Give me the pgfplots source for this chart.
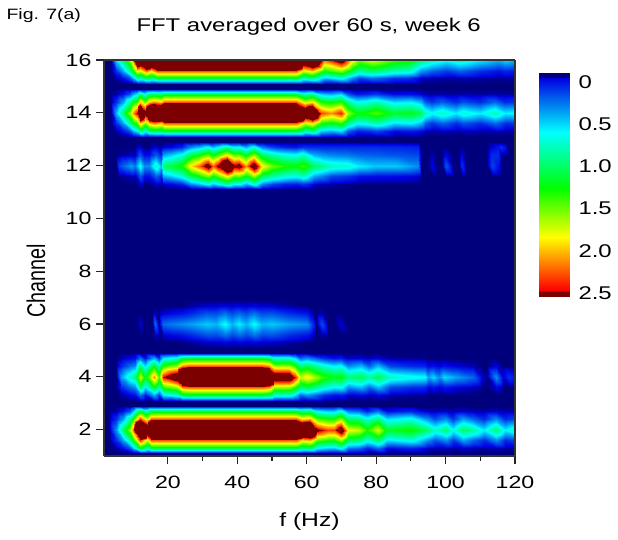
\documentclass[border=0pt]{standalone}
\usepackage{fontspec}
\setmainfont[FakeStretch=1.3]{Liberation Sans}
\newfontfamily\ylab{Liberation Sans}
\usepackage{graphicx}
\usepackage{pgfplots}
\pgfplotsset{compat=1.18}
\definecolor{navy}{RGB}{0,0,125}
\pgfplotsset{colormap={fftmap}{
  rgb255(0)=(0,0,125) rgb255(9)=(0,0,125) rgb255(15)=(0,0,225)
  rgb255(79)=(0,255,255) rgb255(146)=(0,255,0) rgb255(204)=(255,255,0)
  rgb255(266)=(255,0,0) rgb255(268)=(125,0,0) rgb255(621)=(125,0,0)}}
\begin{document}
\begin{tikzpicture}
\path[use as bounding box] (0,0) rectangle (618pt,539pt);
\node[anchor=base west,font=\fontsize{15}{18}\selectfont] at (3pt,519pt) {Fig. 7(a)};
\begin{axis}[
  at={(104pt,83pt)}, anchor=south west,
  scale only axis, width=411pt, height=396pt,
  xmin=1.6, xmax=120, ymin=1, ymax=16,
  view={0}{90},
  axis background/.style={fill=navy},
  xtick={20,40,...,120}, minor x tick num=1,
  ytick={2,4,...,16},
  xtick pos=left, ytick pos=left,
  tick align=outside,
  major tick length=8pt, minor tick length=5pt,
  tick style={color=black!85, line width=1.2pt},
  axis line style={color=black!80, line width=1.1pt},
  point meta min=-0.21, point meta max=6,
  colormap name=fftmap,
  /pgf/number format/assume math mode=true,
  tick label style={font=\fontsize{17.8}{20}\selectfont},
  xticklabel style={yshift=-9pt},
  yticklabel style={xshift=-1pt},
  title={FFT averaged over 60 s, week 6},
  title style={at={(axis description cs:0.498,1.0556)},anchor=base,font=\fontsize{18.4}{21}\selectfont},
  xlabel={f (Hz)},
  xlabel style={at={(axis description cs:0.5,-0.179)},anchor=base,font=\fontsize{19}{22}\selectfont},
  ylabel={\scalebox{1}[1.3]{\ylab\fontsize{19.7}{22}\selectfont Channel}},
  ylabel style={at={(axis description cs:-0.1435,0.442)},anchor=base},
  axis on top,
]
% channel 2
\addplot3[surf,shader=interp,mesh/cols=7] table[row sep=\\,header=false,x index=0,y index=1,z index=2]{
3 1.1 -.12\\ 3 1.3 -.12\\ 3 1.6 -.12\\ 3 2 -.12\\ 3 2.4 -.12\\ 3 2.7 -.12\\ 3 2.9 -.12\\
5 1.1 -.12\\ 5 1.3 -.1\\ 5 1.6 .05\\ 5 2 .3\\ 5 2.4 .05\\ 5 2.7 -.1\\ 5 2.9 -.12\\
7 1.1 -.12\\ 7 1.3 -.02\\ 7 1.6 .36\\ 7 2 1\\ 7 2.4 .36\\ 7 2.7 -.02\\ 7 2.9 -.12\\
9 1.1 -.12\\ 9 1.3 .15\\ 9 1.6 .9\\ 9 2 1.6\\ 9 2.4 .9\\ 9 2.7 .15\\ 9 2.9 -.12\\
10 1.1 -.12\\ 10 1.3 .42\\ 10 1.6 1.25\\ 10 2 2.2\\ 10 2.4 1.25\\ 10 2.7 .42\\ 10 2.9 -.12\\
12 1.1 -.12\\ 12 1.3 1.15\\ 12 1.6 2.35\\ 12 2 5.4\\ 12 2.4 2.35\\ 12 2.7 1.15\\ 12 2.9 -.12\\
14 1.1 -.12\\ 14 1.3 .75\\ 14 1.6 1.7\\ 14 2 3.2\\ 14 2.4 1.7\\ 14 2.7 .75\\ 14 2.9 -.12\\
15 1.1 -.12\\ 15 1.3 1.1\\ 15 1.6 2.25\\ 15 2 5\\ 15 2.4 2.25\\ 15 2.7 1.1\\ 15 2.9 -.12\\
57 1.1 -.12\\ 57 1.3 1.1\\ 57 1.6 2.25\\ 57 2 5\\ 57 2.4 2.25\\ 57 2.7 1.1\\ 57 2.9 -.12\\
58.5 1.1 -.12\\ 58.5 1.3 .9\\ 58.5 1.6 1.9\\ 58.5 2 3.8\\ 58.5 2.4 1.9\\ 58.5 2.7 .9\\ 58.5 2.9 -.12\\
61 1.1 -.12\\ 61 1.3 .98\\ 61 1.6 2.03\\ 61 2 4.2\\ 61 2.4 2.03\\ 61 2.7 .98\\ 61 2.9 -.12\\
63 1.1 -.12\\ 63 1.3 .58\\ 63 1.6 1.45\\ 63 2 2.6\\ 63 2.4 1.45\\ 63 2.7 .58\\ 63 2.9 -.12\\
66 1.1 -.12\\ 66 1.3 .46\\ 66 1.6 1.3\\ 66 2 2.3\\ 66 2.4 1.3\\ 66 2.7 .46\\ 66 2.9 -.12\\
68 1.1 -.12\\ 68 1.3 .46\\ 68 1.6 1.3\\ 68 2 2.3\\ 68 2.4 1.3\\ 68 2.7 .46\\ 68 2.9 -.12\\
70 1.1 -.12\\ 70 1.3 .68\\ 70 1.6 1.6\\ 70 2 2.9\\ 70 2.4 1.6\\ 70 2.7 .68\\ 70 2.9 -.12\\
72 1.1 -.12\\ 72 1.3 .25\\ 72 1.6 1.01\\ 72 2 1.8\\ 72 2.4 1.01\\ 72 2.7 .25\\ 72 2.9 -.12\\
75 1.1 -.12\\ 75 1.3 .2\\ 75 1.6 .95\\ 75 2 1.7\\ 75 2.4 .95\\ 75 2.7 .2\\ 75 2.9 -.12\\
77.5 1.1 -.12\\ 77.5 1.3 .03\\ 77.5 1.6 .67\\ 77.5 2 1.3\\ 77.5 2.4 .67\\ 77.5 2.7 .03\\ 77.5 2.9 -.12\\
80.5 1.1 -.12\\ 80.5 1.3 .22\\ 80.5 1.6 .98\\ 80.5 2 1.75\\ 80.5 2.4 .98\\ 80.5 2.7 .22\\ 80.5 2.9 -.12\\
83 1.1 -.12\\ 83 1.3 -.04\\ 83 1.6 .52\\ 83 2 1.15\\ 83 2.4 .52\\ 83 2.7 -.04\\ 83 2.9 -.12\\
90 1.1 -.12\\ 90 1.3 .03\\ 90 1.6 .67\\ 90 2 1.3\\ 90 2.4 .67\\ 90 2.7 .03\\ 90 2.9 -.12\\
95 1.1 -.12\\ 95 1.3 -.08\\ 95 1.6 .3\\ 95 2 .95\\ 95 2.4 .3\\ 95 2.7 -.08\\ 95 2.9 -.12\\
97 1.1 -.12\\ 97 1.3 -.09\\ 97 1.6 .15\\ 97 2 .7\\ 97 2.4 .15\\ 97 2.7 -.09\\ 97 2.9 -.12\\
100 1.1 -.12\\ 100 1.3 -.08\\ 100 1.6 .3\\ 100 2 .95\\ 100 2.4 .3\\ 100 2.7 -.08\\ 100 2.9 -.12\\
102 1.1 -.12\\ 102 1.3 -.1\\ 102 1.6 .08\\ 102 2 .6\\ 102 2.4 .08\\ 102 2.7 -.1\\ 102 2.9 -.12\\
105 1.1 -.12\\ 105 1.3 -.07\\ 105 1.6 .36\\ 105 2 1\\ 105 2.4 .36\\ 105 2.7 -.07\\ 105 2.9 -.12\\
108 1.1 -.12\\ 108 1.3 -.09\\ 108 1.6 .2\\ 108 2 .85\\ 108 2.4 .2\\ 108 2.7 -.09\\ 108 2.9 -.12\\
111 1.1 -.12\\ 111 1.3 -.1\\ 111 1.6 .05\\ 111 2 .55\\ 111 2.4 .05\\ 111 2.7 -.1\\ 111 2.9 -.12\\
114.5 1.1 -.12\\ 114.5 1.3 -.08\\ 114.5 1.6 .3\\ 114.5 2 .95\\ 114.5 2.4 .3\\ 114.5 2.7 -.08\\ 114.5 2.9 -.12\\
117 1.1 -.12\\ 117 1.3 -.1\\ 117 1.6 .05\\ 117 2 .55\\ 117 2.4 .05\\ 117 2.7 -.1\\ 117 2.9 -.12\\
120 1.1 -.12\\ 120 1.3 -.1\\ 120 1.6 .12\\ 120 2 .75\\ 120 2.4 .12\\ 120 2.7 -.1\\ 120 2.9 -.12\\
};
% channel 4
\addplot3[surf,shader=interp,mesh/cols=7] table[row sep=\\,header=false,x index=0,y index=1,z index=2]{
5 3.1 -.12\\ 5 3.3 -.12\\ 5 3.6 -.12\\ 5 4 -.12\\ 5 4.4 -.12\\ 5 4.7 -.12\\ 5 4.9 -.12\\
6.5 3.1 -.12\\ 6.5 3.3 -.1\\ 6.5 3.6 .03\\ 6.5 4 .35\\ 6.5 4.4 .03\\ 6.5 4.7 -.1\\ 6.5 4.9 -.12\\
9 3.1 -.12\\ 9 3.3 -.05\\ 9 3.6 .22\\ 9 4 .75\\ 9 4.4 .22\\ 9 4.7 -.05\\ 9 4.9 -.12\\
10.5 3.1 -.12\\ 10.5 3.3 -.02\\ 10.5 3.6 .3\\ 10.5 4 .95\\ 10.5 4.4 .3\\ 10.5 4.7 -.02\\ 10.5 4.9 -.12\\
12 3.1 -.12\\ 12 3.3 .22\\ 12 3.6 .98\\ 12 4 1.75\\ 12 4.4 .98\\ 12 4.7 .22\\ 12 4.9 -.12\\
13.5 3.1 -.12\\ 13.5 3.3 -.02\\ 13.5 3.6 .52\\ 13.5 4 1.15\\ 13.5 4.4 .52\\ 13.5 4.7 -.02\\ 13.5 4.9 -.12\\
16 3.1 -.12\\ 16 3.3 .38\\ 16 3.6 1.2\\ 16 4 2.1\\ 16 4.4 1.2\\ 16 4.7 .38\\ 16 4.9 -.12\\
17.5 3.1 -.12\\ 17.5 3.3 .07\\ 17.5 3.6 .76\\ 17.5 4 1.4\\ 17.5 4.4 .76\\ 17.5 4.7 .07\\ 17.5 4.9 -.12\\
18.6 3.1 -.12\\ 18.6 3.3 .52\\ 18.6 3.6 1.37\\ 18.6 4 2.45\\ 18.6 4.4 1.37\\ 18.6 4.7 .52\\ 18.6 4.9 -.12\\
22.5 3.1 -.12\\ 22.5 3.3 .7\\ 22.5 3.6 1.62\\ 22.5 4 3\\ 22.5 4.4 1.62\\ 22.5 4.7 .7\\ 22.5 4.9 -.12\\
24 3.1 -.12\\ 24 3.3 1.03\\ 24 3.6 2.13\\ 24 4 4.5\\ 24 4.4 2.13\\ 24 4.7 1.03\\ 24 4.9 -.12\\
26 3.1 -.12\\ 26 3.3 1.1\\ 26 3.6 2.25\\ 26 4 5\\ 26 4.4 2.25\\ 26 4.7 1.1\\ 26 4.9 -.12\\
47 3.1 -.12\\ 47 3.3 1.1\\ 47 3.6 2.25\\ 47 4 5\\ 47 4.4 2.25\\ 47 4.7 1.1\\ 47 4.9 -.12\\
49 3.1 -.12\\ 49 3.3 1.03\\ 49 3.6 2.13\\ 49 4 4.5\\ 49 4.4 2.13\\ 49 4.7 1.03\\ 49 4.9 -.12\\
50.5 3.1 -.12\\ 50.5 3.3 .7\\ 50.5 3.6 1.62\\ 50.5 4 3\\ 50.5 4.4 1.62\\ 50.5 4.7 .7\\ 50.5 4.9 -.12\\
55 3.1 -.12\\ 55 3.3 .7\\ 55 3.6 1.62\\ 55 4 3\\ 55 4.4 1.62\\ 55 4.7 .7\\ 55 4.9 -.12\\
56.5 3.1 -.12\\ 56.5 3.3 .5\\ 56.5 3.6 1.35\\ 56.5 4 2.4\\ 56.5 4.4 1.35\\ 56.5 4.7 .5\\ 56.5 4.9 -.12\\
58 3.1 -.12\\ 58 3.3 .2\\ 58 3.6 .95\\ 58 4 1.7\\ 58 4.4 .95\\ 58 4.7 .2\\ 58 4.9 -.12\\
60 3.1 -.12\\ 60 3.3 .3\\ 60 3.6 1.07\\ 60 4 1.9\\ 60 4.4 1.07\\ 60 4.7 .3\\ 60 4.9 -.12\\
65 3.1 -.12\\ 65 3.3 .05\\ 65 3.6 .71\\ 65 4 1.35\\ 65 4.4 .71\\ 65 4.7 .05\\ 65 4.9 -.12\\
68 3.1 -.12\\ 68 3.3 -.02\\ 68 3.6 .57\\ 68 4 1.2\\ 68 4.4 .57\\ 68 4.7 -.02\\ 68 4.9 -.12\\
70 3.1 -.12\\ 70 3.3 0\\ 70 3.6 .62\\ 70 4 1.25\\ 70 4.4 .62\\ 70 4.7 0\\ 70 4.9 -.12\\
72 3.1 -.12\\ 72 3.3 -.08\\ 72 3.6 .3\\ 72 4 .95\\ 72 4.4 .3\\ 72 4.7 -.08\\ 72 4.9 -.12\\
75.5 3.1 -.12\\ 75.5 3.3 -.06\\ 75.5 3.6 .42\\ 75.5 4 1.05\\ 75.5 4.4 .42\\ 75.5 4.7 -.06\\ 75.5 4.9 -.12\\
78 3.1 -.12\\ 78 3.3 -.09\\ 78 3.6 .2\\ 78 4 .85\\ 78 4.4 .2\\ 78 4.7 -.09\\ 78 4.9 -.12\\
80.5 3.1 -.12\\ 80.5 3.3 -.06\\ 80.5 3.6 .42\\ 80.5 4 1.05\\ 80.5 4.4 .42\\ 80.5 4.7 -.06\\ 80.5 4.9 -.12\\
84 3.1 -.12\\ 84 3.3 -.1\\ 84 3.6 .12\\ 84 4 .75\\ 84 4.4 .12\\ 84 4.7 -.1\\ 84 4.9 -.12\\
90 3.1 -.12\\ 90 3.3 -.11\\ 90 3.6 .05\\ 90 4 .65\\ 90 4.4 .05\\ 90 4.7 -.11\\ 90 4.9 -.12\\
94 3.1 -.12\\ 94 3.3 -.11\\ 94 3.6 .03\\ 94 4 .6\\ 94 4.4 .03\\ 94 4.7 -.11\\ 94 4.9 -.12\\
95 3.1 -.12\\ 95 3.3 -.12\\ 95 3.6 -.05\\ 95 4 .35\\ 95 4.4 -.05\\ 95 4.7 -.12\\ 95 4.9 -.12\\
96.5 3.1 -.12\\ 96.5 3.3 -.12\\ 96.5 3.6 -.02\\ 96.5 4 .5\\ 96.5 4.4 -.02\\ 96.5 4.7 -.12\\ 96.5 4.9 -.12\\
98 3.1 -.12\\ 98 3.3 -.12\\ 98 3.6 -.06\\ 98 4 .3\\ 98 4.4 -.06\\ 98 4.7 -.12\\ 98 4.9 -.12\\
99.5 3.1 -.12\\ 99.5 3.3 -.12\\ 99.5 3.6 -.02\\ 99.5 4 .5\\ 99.5 4.4 -.02\\ 99.5 4.7 -.12\\ 99.5 4.9 -.12\\
103 3.1 -.12\\ 103 3.3 -.12\\ 103 3.6 -.06\\ 103 4 .35\\ 103 4.4 -.06\\ 103 4.7 -.12\\ 103 4.9 -.12\\
108 3.1 -.12\\ 108 3.3 -.12\\ 108 3.6 -.09\\ 108 4 .2\\ 108 4.4 -.09\\ 108 4.7 -.12\\ 108 4.9 -.12\\
110.5 3.1 -.12\\ 110.5 3.3 -.12\\ 110.5 3.6 -.12\\ 110.5 4 -.07\\ 110.5 4.4 -.12\\ 110.5 4.7 -.12\\ 110.5 4.9 -.12\\
112 3.1 -.12\\ 112 3.3 -.12\\ 112 3.6 -.12\\ 112 4 -.12\\ 112 4.4 -.12\\ 112 4.7 -.12\\ 112 4.9 -.12\\
114.5 3.1 -.12\\ 114.5 3.3 -.12\\ 114.5 3.6 -.06\\ 114.5 4 .3\\ 114.5 4.4 -.06\\ 114.5 4.7 -.12\\ 114.5 4.9 -.12\\
116.5 3.1 -.12\\ 116.5 3.3 -.12\\ 116.5 3.6 -.12\\ 116.5 4 -.07\\ 116.5 4.4 -.12\\ 116.5 4.7 -.12\\ 116.5 4.9 -.12\\
118.4 3.1 -.12\\ 118.4 3.3 -.12\\ 118.4 3.6 -.12\\ 118.4 4 .05\\ 118.4 4.4 -.12\\ 118.4 4.7 -.12\\ 118.4 4.9 -.12\\
120 3.1 -.12\\ 120 3.3 -.12\\ 120 3.6 -.12\\ 120 4 0\\ 120 4.4 -.12\\ 120 4.7 -.12\\ 120 4.9 -.12\\
};
% channel 6
\addplot3[surf,shader=interp,mesh/cols=7] table[row sep=\\,header=false,x index=0,y index=1,z index=2]{
11 5.1 -.12\\ 11 5.3 -.12\\ 11 5.6 -.12\\ 11 6 -.12\\ 11 6.4 -.12\\ 11 6.7 -.12\\ 11 6.9 -.12\\
12 5.1 -.12\\ 12 5.3 -.12\\ 12 5.6 -.12\\ 12 6 -.07\\ 12 6.4 -.12\\ 12 6.7 -.12\\ 12 6.9 -.12\\
13 5.1 -.12\\ 13 5.3 -.12\\ 13 5.6 -.12\\ 13 6 -.12\\ 13 6.4 -.12\\ 13 6.7 -.12\\ 13 6.9 -.12\\
15.5 5.1 -.12\\ 15.5 5.3 -.12\\ 15.5 5.6 -.12\\ 15.5 6 -.12\\ 15.5 6.4 -.12\\ 15.5 6.7 -.12\\ 15.5 6.9 -.12\\
16.4 5.1 -.12\\ 16.4 5.3 -.12\\ 16.4 5.6 -.08\\ 16.4 6 .2\\ 16.4 6.4 -.08\\ 16.4 6.7 -.12\\ 16.4 6.9 -.12\\
17.5 5.1 -.12\\ 17.5 5.3 -.12\\ 17.5 5.6 -.12\\ 17.5 6 -.12\\ 17.5 6.4 -.12\\ 17.5 6.7 -.12\\ 17.5 6.9 -.12\\
18.6 5.1 -.12\\ 18.6 5.3 -.12\\ 18.6 5.6 -.07\\ 18.6 6 .2\\ 18.6 6.4 -.07\\ 18.6 6.7 -.12\\ 18.6 6.9 -.12\\
21 5.1 -.12\\ 21 5.3 -.12\\ 21 5.6 -.05\\ 21 6 .25\\ 21 6.4 -.05\\ 21 6.7 -.12\\ 21 6.9 -.12\\
24 5.1 -.12\\ 24 5.3 -.12\\ 24 5.6 -.02\\ 24 6 .3\\ 24 6.4 -.02\\ 24 6.7 -.12\\ 24 6.9 -.12\\
27 5.1 -.12\\ 27 5.3 -.1\\ 27 5.6 .04\\ 27 6 .35\\ 27 6.4 .04\\ 27 6.7 -.1\\ 27 6.9 -.12\\
31.4 5.1 -.12\\ 31.4 5.3 -.07\\ 31.4 5.6 .14\\ 31.4 6 .45\\ 31.4 6.4 .14\\ 31.4 6.7 -.07\\ 31.4 6.9 -.12\\
34 5.1 -.12\\ 34 5.3 -.07\\ 34 5.6 .12\\ 34 6 .4\\ 34 6.4 .12\\ 34 6.7 -.07\\ 34 6.9 -.12\\
36.4 5.1 -.12\\ 36.4 5.3 -.05\\ 36.4 5.6 .22\\ 36.4 6 .6\\ 36.4 6.4 .22\\ 36.4 6.7 -.05\\ 36.4 6.9 -.12\\
38.5 5.1 -.12\\ 38.5 5.3 -.07\\ 38.5 5.6 .12\\ 38.5 6 .4\\ 38.5 6.4 .12\\ 38.5 6.7 -.07\\ 38.5 6.9 -.12\\
40.4 5.1 -.12\\ 40.4 5.3 -.05\\ 40.4 5.6 .2\\ 40.4 6 .55\\ 40.4 6.4 .2\\ 40.4 6.7 -.05\\ 40.4 6.9 -.12\\
42.5 5.1 -.12\\ 42.5 5.3 -.07\\ 42.5 5.6 .12\\ 42.5 6 .4\\ 42.5 6.4 .12\\ 42.5 6.7 -.07\\ 42.5 6.9 -.12\\
44.7 5.1 -.12\\ 44.7 5.3 -.05\\ 44.7 5.6 .22\\ 44.7 6 .6\\ 44.7 6.4 .22\\ 44.7 6.7 -.05\\ 44.7 6.9 -.12\\
47 5.1 -.12\\ 47 5.3 -.07\\ 47 5.6 .12\\ 47 6 .4\\ 47 6.4 .12\\ 47 6.7 -.07\\ 47 6.9 -.12\\
50 5.1 -.12\\ 50 5.3 -.07\\ 50 5.6 .14\\ 50 6 .45\\ 50 6.4 .14\\ 50 6.7 -.07\\ 50 6.9 -.12\\
55 5.1 -.12\\ 55 5.3 -.1\\ 55 5.6 .04\\ 55 6 .35\\ 55 6.4 .04\\ 55 6.7 -.1\\ 55 6.9 -.12\\
60 5.1 -.12\\ 60 5.3 -.12\\ 60 5.6 -.02\\ 60 6 .3\\ 60 6.4 -.02\\ 60 6.7 -.12\\ 60 6.9 -.12\\
61.8 5.1 -.12\\ 61.8 5.3 -.12\\ 61.8 5.6 -.1\\ 61.8 6 .05\\ 61.8 6.4 -.1\\ 61.8 6.7 -.12\\ 61.8 6.9 -.12\\
62.8 5.1 -.12\\ 62.8 5.3 -.12\\ 62.8 5.6 -.12\\ 62.8 6 -.12\\ 62.8 6.4 -.12\\ 62.8 6.7 -.12\\ 62.8 6.9 -.12\\
64.3 5.1 -.12\\ 64.3 5.3 -.12\\ 64.3 5.6 -.1\\ 64.3 6 .12\\ 64.3 6.4 -.1\\ 64.3 6.7 -.12\\ 64.3 6.9 -.12\\
66 5.1 -.12\\ 66 5.3 -.12\\ 66 5.6 -.12\\ 66 6 -.12\\ 66 6.4 -.12\\ 66 6.7 -.12\\ 66 6.9 -.12\\
68 5.1 -.12\\ 68 5.3 -.12\\ 68 5.6 -.12\\ 68 6 -.12\\ 68 6.4 -.12\\ 68 6.7 -.12\\ 68 6.9 -.12\\
70 5.1 -.12\\ 70 5.3 -.12\\ 70 5.6 -.12\\ 70 6 -.07\\ 70 6.4 -.12\\ 70 6.7 -.12\\ 70 6.9 -.12\\
72 5.1 -.12\\ 72 5.3 -.12\\ 72 5.6 -.12\\ 72 6 -.12\\ 72 6.4 -.12\\ 72 6.7 -.12\\ 72 6.9 -.12\\
};
% channel 12
\addplot3[surf,shader=interp,mesh/cols=7] table[row sep=\\,header=false,x index=0,y index=1,z index=2]{
5 11.1 -.12\\ 5 11.3 -.12\\ 5 11.6 -.12\\ 5 12 -.12\\ 5 12.4 -.12\\ 5 12.7 -.12\\ 5 12.9 -.12\\
6 11.1 -.12\\ 6 11.3 -.12\\ 6 11.6 -.11\\ 6 12 .1\\ 6 12.4 -.11\\ 6 12.7 -.12\\ 6 12.9 -.12\\
8 11.1 -.12\\ 8 11.3 -.12\\ 8 11.6 -.1\\ 8 12 .25\\ 8 12.4 -.1\\ 8 12.7 -.12\\ 8 12.9 -.12\\
9.5 11.1 -.12\\ 9.5 11.3 -.12\\ 9.5 11.6 -.08\\ 9.5 12 .35\\ 9.5 12.4 -.08\\ 9.5 12.7 -.12\\ 9.5 12.9 -.12\\
10.5 11.1 -.12\\ 10.5 11.3 -.12\\ 10.5 11.6 -.1\\ 10.5 12 .25\\ 10.5 12.4 -.1\\ 10.5 12.7 -.12\\ 10.5 12.9 -.12\\
12 11.1 -.12\\ 12 11.3 -.07\\ 12 11.6 .15\\ 12 12 .65\\ 12 12.4 .15\\ 12 12.7 -.07\\ 12 12.9 -.12\\
13 11.1 -.12\\ 13 11.3 -.12\\ 13 11.6 -.03\\ 13 12 .3\\ 13 12.4 -.03\\ 13 12.7 -.12\\ 13 12.9 -.12\\
14.5 11.1 -.12\\ 14.5 11.3 -.12\\ 14.5 11.6 -.03\\ 14.5 12 .3\\ 14.5 12.4 -.03\\ 14.5 12.7 -.12\\ 14.5 12.9 -.12\\
16.6 11.1 -.12\\ 16.6 11.3 -.07\\ 16.6 11.6 .18\\ 16.6 12 .75\\ 16.6 12.4 .18\\ 16.6 12.7 -.07\\ 16.6 12.9 -.12\\
18 11.1 -.12\\ 18 11.3 -.11\\ 18 11.6 .02\\ 18 12 .4\\ 18 12.4 .02\\ 18 12.7 -.11\\ 18 12.9 -.12\\
18.6 11.1 -.12\\ 18.6 11.3 -.07\\ 18.6 11.6 .36\\ 18.6 12 1\\ 18.6 12.4 .36\\ 18.6 12.7 -.07\\ 18.6 12.9 -.12\\
21 11.1 -.12\\ 21 11.3 -.05\\ 21 11.6 .47\\ 21 12 1.1\\ 21 12.4 .47\\ 21 12.7 -.05\\ 21 12.9 -.12\\
24 11.1 -.12\\ 24 11.3 .03\\ 24 11.6 .67\\ 24 12 1.3\\ 24 12.4 .67\\ 24 12.7 .03\\ 24 12.9 -.12\\
26.6 11.1 -.12\\ 26.6 11.3 .3\\ 26.6 11.6 1.07\\ 26.6 12 1.9\\ 26.6 12.4 1.07\\ 26.6 12.7 .3\\ 26.6 12.9 -.12\\
29 11.1 -.12\\ 29 11.3 .42\\ 29 11.6 1.25\\ 29 12 2.2\\ 29 12.4 1.25\\ 29 12.7 .42\\ 29 12.9 -.12\\
31.5 11.1 -.12\\ 31.5 11.3 .63\\ 31.5 11.6 1.52\\ 31.5 12 2.75\\ 31.5 12.4 1.52\\ 31.5 12.7 .63\\ 31.5 12.9 -.12\\
33 11.1 -.12\\ 33 11.3 .42\\ 33 11.6 1.25\\ 33 12 2.2\\ 33 12.4 1.25\\ 33 12.7 .42\\ 33 12.9 -.12\\
34.4 11.1 -.12\\ 34.4 11.3 .58\\ 34.4 11.6 1.45\\ 34.4 12 2.6\\ 34.4 12.4 1.45\\ 34.4 12.7 .58\\ 34.4 12.9 -.12\\
37 11.1 -.12\\ 37 11.3 .86\\ 37 11.6 1.85\\ 37 12 3.6\\ 37 12.4 1.85\\ 37 12.7 .86\\ 37 12.9 -.12\\
39 11.1 -.12\\ 39 11.3 .58\\ 39 11.6 1.45\\ 39 12 2.6\\ 39 12.4 1.45\\ 39 12.7 .58\\ 39 12.9 -.12\\
40.4 11.1 -.12\\ 40.4 11.3 .62\\ 40.4 11.6 1.5\\ 40.4 12 2.7\\ 40.4 12.4 1.5\\ 40.4 12.7 .62\\ 40.4 12.9 -.12\\
42.5 11.1 -.12\\ 42.5 11.3 .38\\ 42.5 11.6 1.2\\ 42.5 12 2.1\\ 42.5 12.4 1.2\\ 42.5 12.7 .38\\ 42.5 12.9 -.12\\
44.7 11.1 -.12\\ 44.7 11.3 .68\\ 44.7 11.6 1.6\\ 44.7 12 2.9\\ 44.7 12.4 1.6\\ 44.7 12.7 .68\\ 44.7 12.9 -.12\\
47 11.1 -.12\\ 47 11.3 .27\\ 47 11.6 1.04\\ 47 12 1.85\\ 47 12.4 1.04\\ 47 12.7 .27\\ 47 12.9 -.12\\
50 11.1 -.12\\ 50 11.3 .11\\ 50 11.6 .84\\ 50 12 1.5\\ 50 12.4 .84\\ 50 12.7 .11\\ 50 12.9 -.12\\
53.7 11.1 -.12\\ 53.7 11.3 .03\\ 53.7 11.6 .67\\ 53.7 12 1.3\\ 53.7 12.4 .67\\ 53.7 12.7 .03\\ 53.7 12.9 -.12\\
57 11.1 -.12\\ 57 11.3 0\\ 57 11.6 .62\\ 57 12 1.25\\ 57 12.4 .62\\ 57 12.7 0\\ 57 12.9 -.12\\
59 11.1 -.12\\ 59 11.3 .07\\ 59 11.6 .76\\ 59 12 1.4\\ 59 12.4 .76\\ 59 12.7 .07\\ 59 12.9 -.12\\
62 11.1 -.12\\ 62 11.3 -.07\\ 62 11.6 .36\\ 62 12 1\\ 62 12.4 .4\\ 62 12.7 .05\\ 62 12.9 -.12\\
63.5 11.1 -.12\\ 63.5 11.3 -.08\\ 63.5 11.6 .3\\ 63.5 12 .95\\ 63.5 12.4 .35\\ 63.5 12.7 .05\\ 63.5 12.9 -.12\\
67 11.1 -.12\\ 67 11.3 -.1\\ 67 11.6 .12\\ 67 12 .75\\ 67 12.4 .28\\ 67 12.7 .05\\ 67 12.9 -.12\\
72 11.1 -.12\\ 72 11.3 -.11\\ 72 11.6 .06\\ 72 12 .7\\ 72 12.4 .25\\ 72 12.7 .05\\ 72 12.9 -.12\\
75 11.1 -.12\\ 75 11.3 -.12\\ 75 11.6 -.02\\ 75 12 .55\\ 75 12.4 .2\\ 75 12.7 .05\\ 75 12.9 -.12\\
80 11.1 -.12\\ 80 11.3 -.12\\ 80 11.6 -.03\\ 80 12 .45\\ 80 12.4 .18\\ 80 12.7 .05\\ 80 12.9 -.12\\
86 11.1 -.12\\ 86 11.3 -.12\\ 86 11.6 -.04\\ 86 12 .45\\ 86 12.4 .15\\ 86 12.7 .04\\ 86 12.9 -.12\\
92 11.1 -.12\\ 92 11.3 -.12\\ 92 11.6 -.07\\ 92 12 .3\\ 92 12.4 .12\\ 92 12.7 .02\\ 92 12.9 -.12\\
93 11.1 -.12\\ 93 11.3 -.12\\ 93 11.6 -.12\\ 93 12 -.12\\ 93 12.4 -.12\\ 93 12.7 -.12\\ 93 12.9 -.12\\
95 11.1 -.12\\ 95 11.3 -.12\\ 95 11.6 -.12\\ 95 12 -.12\\ 95 12.4 -.12\\ 95 12.7 -.12\\ 95 12.9 -.12\\
96 11.1 -.12\\ 96 11.3 -.12\\ 96 11.6 -.12\\ 96 12 -.05\\ 96 12.4 -.09\\ 96 12.7 -.12\\ 96 12.9 -.12\\
97.5 11.1 -.12\\ 97.5 11.3 -.12\\ 97.5 11.6 -.12\\ 97.5 12 -.12\\ 97.5 12.4 -.12\\ 97.5 12.7 -.12\\ 97.5 12.9 -.12\\
99 11.1 -.12\\ 99 11.3 -.12\\ 99 11.6 -.12\\ 99 12 -.12\\ 99 12.4 -.12\\ 99 12.7 -.12\\ 99 12.9 -.12\\
100 11.1 -.12\\ 100 11.3 -.12\\ 100 11.6 -.12\\ 100 12 .15\\ 100 12.4 -.05\\ 100 12.7 -.12\\ 100 12.9 -.12\\
102 11.1 -.12\\ 102 11.3 -.12\\ 102 11.6 -.12\\ 102 12 -.12\\ 102 12.4 -.12\\ 102 12.7 -.12\\ 102 12.9 -.12\\
104 11.1 -.12\\ 104 11.3 -.12\\ 104 11.6 -.12\\ 104 12 -.12\\ 104 12.4 -.12\\ 104 12.7 -.12\\ 104 12.9 -.12\\
104.8 11.1 -.12\\ 104.8 11.3 -.12\\ 104.8 11.6 -.12\\ 104.8 12 .05\\ 104.8 12.4 -.06\\ 104.8 12.7 -.12\\ 104.8 12.9 -.12\\
106 11.1 -.12\\ 106 11.3 -.12\\ 106 11.6 -.12\\ 106 12 -.12\\ 106 12.4 -.12\\ 106 12.7 -.12\\ 106 12.9 -.12\\
112 11.1 -.12\\ 112 11.3 -.12\\ 112 11.6 -.12\\ 112 12 -.12\\ 112 12.4 -.12\\ 112 12.7 -.12\\ 112 12.9 -.12\\
113.5 11.1 -.12\\ 113.5 11.3 -.12\\ 113.5 11.6 -.12\\ 113.5 12 .1\\ 113.5 12.4 .05\\ 113.5 12.7 -.06\\ 113.5 12.9 -.12\\
115 11.1 -.12\\ 115 11.3 -.12\\ 115 11.6 -.12\\ 115 12 -.02\\ 115 12.4 .05\\ 115 12.7 0\\ 115 12.9 -.12\\
116 11.1 -.12\\ 116 11.3 -.12\\ 116 11.6 -.12\\ 116 12 -.12\\ 116 12.4 -.12\\ 116 12.7 .05\\ 116 12.9 -.12\\
117 11.1 -.12\\ 117 11.3 -.12\\ 117 11.6 -.12\\ 117 12 -.12\\ 117 12.4 -.12\\ 117 12.7 -.02\\ 117 12.9 -.12\\
118 11.1 -.12\\ 118 11.3 -.12\\ 118 11.6 -.12\\ 118 12 -.12\\ 118 12.4 -.12\\ 118 12.7 -.12\\ 118 12.9 -.12\\
};
% channel 14
\addplot3[surf,shader=interp,mesh/cols=7] table[row sep=\\,header=false,x index=0,y index=1,z index=2]{
3.5 13.1 -.12\\ 3.5 13.3 -.12\\ 3.5 13.6 -.12\\ 3.5 14 -.12\\ 3.5 14.4 -.12\\ 3.5 14.7 -.12\\ 3.5 14.9 -.12\\
5 13.1 -.12\\ 5 13.3 -.1\\ 5 13.6 .05\\ 5 14 .4\\ 5 14.4 .05\\ 5 14.7 -.1\\ 5 14.9 -.12\\
7 13.1 -.12\\ 7 13.3 -.02\\ 7 13.6 .36\\ 7 14 1\\ 7 14.4 .36\\ 7 14.7 -.02\\ 7 14.9 -.12\\
9 13.1 -.12\\ 9 13.3 .15\\ 9 13.6 .9\\ 9 14 1.6\\ 9 14.4 .9\\ 9 14.7 .15\\ 9 14.9 -.12\\
10 13.1 -.12\\ 10 13.3 .38\\ 10 13.6 1.2\\ 10 14 2.1\\ 10 14.4 1.2\\ 10 14.7 .38\\ 10 14.9 -.12\\
11 13.1 -.12\\ 11 13.3 .54\\ 11 13.6 1.4\\ 11 14 2.5\\ 11 14.4 1.4\\ 11 14.7 .54\\ 11 14.9 -.12\\
12 13.1 -.12\\ 12 13.3 .95\\ 12 13.6 1.97\\ 12 14 4\\ 12 14.4 1.97\\ 12 14.7 .95\\ 12 14.9 -.12\\
13.5 13.1 -.12\\ 13.5 13.3 .62\\ 13.5 13.6 1.5\\ 13.5 14 2.7\\ 13.5 14.4 1.5\\ 13.5 14.7 .62\\ 13.5 14.9 -.12\\
14.5 13.1 -.12\\ 14.5 13.3 .95\\ 14.5 13.6 1.97\\ 14.5 14 4\\ 14.5 14.4 1.97\\ 14.5 14.7 .95\\ 14.5 14.9 -.12\\
16 13.1 -.12\\ 16 13.3 1.03\\ 16 13.6 2.13\\ 16 14 4.5\\ 16 14.4 2.13\\ 16 14.7 1.03\\ 16 14.9 -.12\\
18 13.1 -.12\\ 18 13.3 .95\\ 18 13.6 1.97\\ 18 14 4\\ 18 14.4 1.97\\ 18 14.7 .95\\ 18 14.9 -.12\\
19 13.1 -.12\\ 19 13.3 1.1\\ 19 13.6 2.25\\ 19 14 5\\ 19 14.4 2.25\\ 19 14.7 1.1\\ 19 14.9 -.12\\
57 13.1 -.12\\ 57 13.3 1.1\\ 57 13.6 2.25\\ 57 14 5\\ 57 14.4 2.25\\ 57 14.7 1.1\\ 57 14.9 -.12\\
59.5 13.1 -.12\\ 59.5 13.3 .75\\ 59.5 13.6 1.7\\ 59.5 14 3.2\\ 59.5 14.4 1.7\\ 59.5 14.7 .75\\ 59.5 14.9 -.12\\
61.5 13.1 -.12\\ 61.5 13.3 .9\\ 61.5 13.6 1.9\\ 61.5 14 3.8\\ 61.5 14.4 1.9\\ 61.5 14.7 .9\\ 61.5 14.9 -.12\\
64 13.1 -.12\\ 64 13.3 .46\\ 64 13.6 1.3\\ 64 14 2.3\\ 64 14.4 1.3\\ 64 14.7 .46\\ 64 14.9 -.12\\
67 13.1 -.12\\ 67 13.3 .38\\ 67 13.6 1.2\\ 67 14 2.1\\ 67 14.4 1.2\\ 67 14.7 .38\\ 67 14.9 -.12\\
70 13.1 -.12\\ 70 13.3 .5\\ 70 13.6 1.35\\ 70 14 2.4\\ 70 14.4 1.35\\ 70 14.7 .5\\ 70 14.9 -.12\\
72 13.1 -.12\\ 72 13.3 .15\\ 72 13.6 .9\\ 72 14 1.6\\ 72 14.4 .9\\ 72 14.7 .15\\ 72 14.9 -.12\\
74.6 13.1 -.12\\ 74.6 13.3 0\\ 74.6 13.6 .62\\ 74.6 14 1.25\\ 74.6 14.4 .62\\ 74.6 14.7 0\\ 74.6 14.9 -.12\\
77 13.1 -.12\\ 77 13.3 .03\\ 77 13.6 .67\\ 77 14 1.3\\ 77 14.4 .67\\ 77 14.7 .03\\ 77 14.9 -.12\\
80 13.1 -.12\\ 80 13.3 .09\\ 80 13.6 .8\\ 80 14 1.45\\ 80 14.4 .8\\ 80 14.7 .09\\ 80 14.9 -.12\\
85 13.1 -.12\\ 85 13.3 -.04\\ 85 13.6 .52\\ 85 14 1.15\\ 85 14.4 .52\\ 85 14.7 -.04\\ 85 14.9 -.12\\
90 13.1 -.12\\ 90 13.3 -.02\\ 90 13.6 .57\\ 90 14 1.2\\ 90 14.4 .57\\ 90 14.7 -.02\\ 90 14.9 -.12\\
93 13.1 -.12\\ 93 13.3 -.06\\ 93 13.6 .42\\ 93 14 1.05\\ 93 14.4 .42\\ 93 14.7 -.06\\ 93 14.9 -.12\\
94 13.1 -.12\\ 94 13.3 -.09\\ 94 13.6 .18\\ 94 14 .75\\ 94 14.4 .18\\ 94 14.7 -.09\\ 94 14.9 -.12\\
96 13.1 -.12\\ 96 13.3 -.1\\ 96 13.6 .08\\ 96 14 .6\\ 96 14.4 .08\\ 96 14.7 -.1\\ 96 14.9 -.12\\
99 13.1 -.12\\ 99 13.3 -.09\\ 99 13.6 .18\\ 99 14 .75\\ 99 14.4 .18\\ 99 14.7 -.09\\ 99 14.9 -.12\\
103 13.1 -.12\\ 103 13.3 -.1\\ 103 13.6 .05\\ 103 14 .55\\ 103 14.4 .05\\ 103 14.7 -.1\\ 103 14.9 -.12\\
105 13.1 -.12\\ 105 13.3 -.09\\ 105 13.6 .14\\ 105 14 .7\\ 105 14.4 .14\\ 105 14.7 -.09\\ 105 14.9 -.12\\
110 13.1 -.12\\ 110 13.3 -.1\\ 110 13.6 .05\\ 110 14 .55\\ 110 14.4 .05\\ 110 14.7 -.1\\ 110 14.9 -.12\\
114.3 13.1 -.12\\ 114.3 13.3 -.09\\ 114.3 13.6 .2\\ 114.3 14 .8\\ 114.3 14.4 .2\\ 114.3 14.7 -.09\\ 114.3 14.9 -.12\\
117 13.1 -.12\\ 117 13.3 -.1\\ 117 13.6 .05\\ 117 14 .55\\ 117 14.4 .05\\ 117 14.7 -.1\\ 117 14.9 -.12\\
120 13.1 -.12\\ 120 13.3 -.1\\ 120 13.6 .08\\ 120 14 .6\\ 120 14.4 .08\\ 120 14.7 -.1\\ 120 14.9 -.12\\
};
% channel 16
\addplot3[surf,shader=interp,mesh/cols=4] table[row sep=\\,header=false,x index=0,y index=1,z index=2]{
3.5 15.1 -.12\\ 3.5 15.3 -.12\\ 3.5 15.6 -.12\\ 3.5 16 -.12\\
5 15.1 -.12\\ 5 15.3 -.1\\ 5 15.6 .05\\ 5 16 .5\\
7 15.1 -.12\\ 7 15.3 -.02\\ 7 15.6 .36\\ 7 16 1\\
9 15.1 -.12\\ 9 15.3 .15\\ 9 15.6 .9\\ 9 16 1.6\\
10 15.1 -.12\\ 10 15.3 .42\\ 10 15.6 1.25\\ 10 16 2.2\\
11 15.1 -.12\\ 11 15.3 .84\\ 11 15.6 1.82\\ 11 16 3.5\\
12 15.1 -.12\\ 12 15.3 .75\\ 12 15.6 1.7\\ 12 16 3.2\\
13.6 15.1 -.12\\ 13.6 15.3 1.03\\ 13.6 15.6 2.13\\ 13.6 16 4.5\\
15 15.1 -.12\\ 15 15.3 .86\\ 15 15.6 1.85\\ 15 16 3.6\\
17 15.1 -.12\\ 17 15.3 1.1\\ 17 15.6 2.25\\ 17 16 5\\
57 15.1 -.12\\ 57 15.3 1.1\\ 57 15.6 2.25\\ 57 16 5\\
59 15.1 -.12\\ 59 15.3 .75\\ 59 15.6 1.7\\ 59 16 3.2\\
61.5 15.1 -.12\\ 61.5 15.3 .9\\ 61.5 15.6 1.9\\ 61.5 16 3.8\\
65 15.1 -.12\\ 65 15.3 .42\\ 65 15.6 1.25\\ 65 16 2.2\\
70 15.1 -.12\\ 70 15.3 .65\\ 70 15.6 1.55\\ 70 16 2.8\\
73 15.1 -.12\\ 73 15.3 .3\\ 73 15.6 1.07\\ 73 16 1.9\\
75 15.1 -.12\\ 75 15.3 .11\\ 75 15.6 .84\\ 75 16 1.5\\
78.8 15.1 -.12\\ 78.8 15.3 .22\\ 78.8 15.6 .98\\ 78.8 16 1.75\\
85 15.1 -.12\\ 85 15.3 .07\\ 85 15.6 .76\\ 85 16 1.4\\
89.6 15.1 -.12\\ 89.6 15.3 .05\\ 89.6 15.6 .71\\ 89.6 16 1.35\\
93 15.1 -.12\\ 93 15.3 -.08\\ 93 15.6 .3\\ 93 16 .95\\
96 15.1 -.12\\ 96 15.3 -.09\\ 96 15.6 .18\\ 96 16 .75\\
100 15.1 -.12\\ 100 15.3 -.1\\ 100 15.6 .08\\ 100 16 .6\\
104 15.1 -.12\\ 104 15.3 -.09\\ 104 15.6 .18\\ 104 16 .75\\
110 15.1 -.12\\ 110 15.3 -.1\\ 110 15.6 .05\\ 110 16 .55\\
115 15.1 -.12\\ 115 15.3 -.11\\ 115 15.6 -.02\\ 115 16 .4\\
117 15.1 -.12\\ 117 15.3 -.1\\ 117 15.6 .03\\ 117 16 .5\\
120 15.1 -.12\\ 120 15.3 -.11\\ 120 15.6 -.02\\ 120 16 .4\\
};
\draw[color=black!80,line width=2pt] (rel axis cs:0,1) -- (rel axis cs:0,0) -- (rel axis cs:1,0);
\end{axis}
\begin{axis}[
  at={(539pt,243pt)}, anchor=south west,
  scale only axis, width=30pt, height=223pt,
  xmin=0, xmax=1, ymin=-0.107, ymax=2.536, y dir=reverse,
  view={0}{90},
  axis line style={draw=none},
  xtick=\empty,
  ytick={0,0.5,1,1.5,2,2.5},
  yticklabels={0,0.5,1.0,1.5,2.0,2.5},
  ytick pos=right, yticklabel pos=right,
  major tick length=0pt,
  yticklabel style={anchor=west,xshift=6pt,font=\fontsize{18.4}{21}\selectfont},
  point meta min=-0.21, point meta max=6,
  colormap name=fftmap,
]
\addplot3[surf,shader=interp,mesh/cols=2] table[row sep=\\,header=false,x index=0,y index=1,z index=2]{
0 -.107 -.21\\ 1 -.107 -.21\\
0 -.06 -.12\\ 1 -.06 -.12\\
0 -.05 -.06\\ 1 -.05 -.06\\
0 .59 .58\\ 1 .59 .58\\
0 1.26 1.25\\ 1 1.26 1.25\\
0 1.84 1.83\\ 1 1.84 1.83\\
0 2.47 2.45\\ 1 2.47 2.45\\
0 2.49 2.47\\ 1 2.49 2.47\\
0 2.536 2.52\\ 1 2.536 2.52\\
};
\end{axis}
\end{tikzpicture}
\end{document}
